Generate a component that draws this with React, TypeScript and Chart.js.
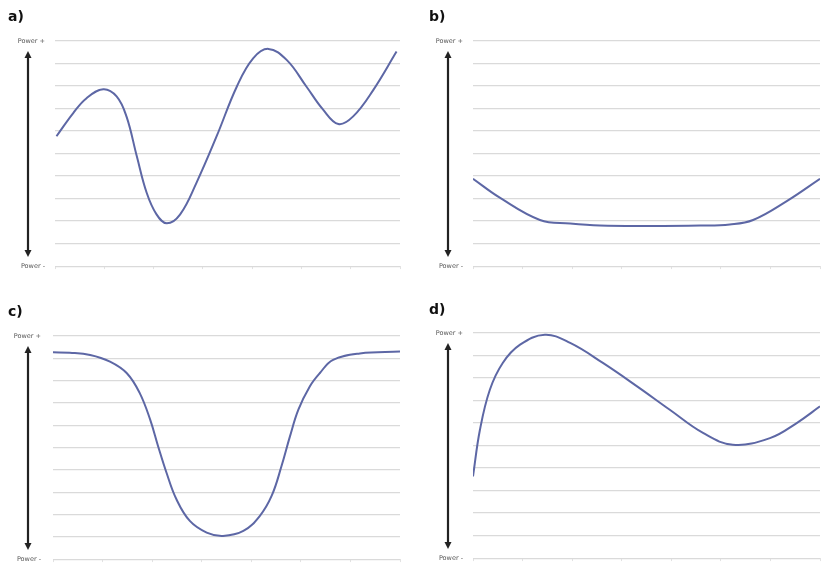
import React, { useEffect, useRef } from "react";
import { Chart, registerables } from "chart.js";

Chart.register(...registerables);

const panelLabels = ["a)", "b)", "c)", "d)"];
const yTickTop = "Power +";
const yTickBottom = "Power -";
const yMin = 0;
const yMax = 10;
const xMin = 0;
const xMax = 7;

const aX = [0.03, 0.37, 0.64, 0.98, 1.25, 1.45, 1.66, 1.86, 2.06, 2.27, 2.54, 2.87, 3.28, 3.69, 4.02, 4.33, 4.7, 5.1, 5.44, 5.75, 6.05, 6.46, 6.93];
const aY = [5.77, 6.8, 7.46, 7.86, 7.54, 6.65, 4.88, 3.26, 2.3, 1.9, 2.3, 3.7, 5.77, 7.98, 9.23, 9.65, 9.16, 7.98, 6.95, 6.31, 6.65, 7.83, 9.53];

const bX = [0, 0.54, 1.35, 1.96, 2.56, 3.57, 4.58, 5.18, 5.65, 6.33, 7.0];
const bY = [3.88, 3.04, 2.05, 1.89, 1.8, 1.78, 1.8, 1.85, 2.05, 2.89, 3.88];

const cX = [0, 0.34, 0.75, 1.15, 1.49, 1.75, 1.96, 2.12, 2.29, 2.49, 2.76, 3.1, 3.43, 3.84, 4.17, 4.41, 4.61, 4.78, 4.95, 5.18, 5.38, 5.65, 6.19, 7.0];
const cY = [9.27, 9.25, 9.15, 8.85, 8.33, 7.44, 6.25, 5.06, 3.87, 2.68, 1.71, 1.19, 1.04, 1.26, 1.93, 2.83, 4.17, 5.5, 6.7, 7.74, 8.33, 8.93, 9.22, 9.3];

const dX = [0, 0.14, 0.34, 0.6, 0.95, 1.45, 1.96, 2.62, 3.31, 3.97, 4.64, 5.24, 5.99, 6.53, 7.0];
const dY = [3.63, 5.7, 7.48, 8.67, 9.48, 9.92, 9.56, 8.67, 7.63, 6.59, 5.56, 5.04, 5.33, 6.0, 6.74];

type PanelCfg = {
  label: string;
  xs: number[];
  ys: number[];
  left: number;
  top: number;
  w: number;
  h: number;
  padTop: number;
  padRight: number;
  padBottom: number;
  yWidth: number;
  arrowX: number;
  labelPad: number;
  labelPos: [number, number];
};

const panels: PanelCfg[] = [
  { label: panelLabels[0], xs: aX, ys: aY, left: 0, top: 0, w: 415, h: 280, padTop: 41, padRight: 15, padBottom: 9, yWidth: 55, arrowX: 28, labelPad: 10, labelPos: [8, 8] },
  { label: panelLabels[1], xs: bX, ys: bY, left: 415, top: 0, w: 415, h: 280, padTop: 41, padRight: 10, padBottom: 9, yWidth: 58, arrowX: 33, labelPad: 10, labelPos: [429, 8] },
  { label: panelLabels[2], xs: cX, ys: cY, left: 0, top: 290, w: 415, h: 285, padTop: 46, padRight: 15, padBottom: 9, yWidth: 53, arrowX: 28, labelPad: 12, labelPos: [8, 303] },
  { label: panelLabels[3], xs: dX, ys: dY, left: 415, top: 290, w: 415, h: 282, padTop: 43, padRight: 10, padBottom: 9, yWidth: 58, arrowX: 33, labelPad: 10, labelPos: [429, 301] },
];

const arrowPlugin = {
  id: "powerArrow",
  afterDraw(chart: any, _args: any, opts: any) {
    const { ctx, chartArea } = chart;
    const x = opts.x;
    const y1 = chartArea.top + 10;
    const y2 = chartArea.bottom - 9;
    const head = 7;
    const hw = 3.5;
    ctx.save();
    ctx.strokeStyle = "#222";
    ctx.fillStyle = "#222";
    ctx.lineWidth = 2.2;
    ctx.beginPath();
    ctx.moveTo(x, y1 + head - 1);
    ctx.lineTo(x, y2 - head + 1);
    ctx.stroke();
    ctx.beginPath();
    ctx.moveTo(x, y1);
    ctx.lineTo(x - hw, y1 + head);
    ctx.lineTo(x + hw, y1 + head);
    ctx.closePath();
    ctx.fill();
    ctx.beginPath();
    ctx.moveTo(x, y2);
    ctx.lineTo(x - hw, y2 - head);
    ctx.lineTo(x + hw, y2 - head);
    ctx.closePath();
    ctx.fill();
    ctx.restore();
  },
};

function Panel({ cfg }: { cfg: PanelCfg }) {
  const ref = useRef<HTMLCanvasElement | null>(null);
  useEffect(() => {
    if (!ref.current) return;
    const chart = new Chart(ref.current, {
      type: "line",
      data: {
        datasets: [
          {
            data: cfg.xs.map((x, i) => ({ x, y: cfg.ys[i] })),
            borderColor: "#5d67a5",
            borderWidth: 2,
            pointRadius: 0,
            fill: false,
            tension: 0.4,
          },
        ],
      },
      options: {
        animation: false,
        responsive: false,
        layout: { padding: { top: cfg.padTop, right: cfg.padRight, bottom: cfg.padBottom, left: 0 } },
        plugins: {
          legend: { display: false },
          tooltip: { enabled: false },
          title: { display: false },
          powerArrow: { x: cfg.arrowX },
        } as any,
        scales: {
          x: {
            type: "linear",
            min: xMin,
            max: xMax,
            ticks: { display: false, stepSize: 1 },
            grid: { drawOnChartArea: false, drawTicks: true, tickLength: 3, color: "#e2e2e2" },
            border: { display: false },
            afterFit: (s: any) => {
              s.height = 4;
            },
          },
          y: {
            min: yMin,
            max: yMax,
            ticks: {
              stepSize: 1,
              padding: cfg.labelPad,
              color: "#555",
              font: { family: "DejaVu Sans", size: 6.5 },
              callback: (v: any) => (v === yMax ? yTickTop : v === yMin ? yTickBottom : ""),
            },
            grid: { drawTicks: false, color: "#dadada", lineWidth: 1.2 },
            border: { display: false },
            afterFit: (s: any) => {
              s.width = cfg.yWidth;
            },
          },
        },
      },
      plugins: [arrowPlugin],
    });
    return () => chart.destroy();
  }, [cfg]);
  return (
    <canvas
      ref={ref}
      width={cfg.w}
      height={cfg.h}
      style={{ position: "absolute", left: cfg.left, top: cfg.top, width: cfg.w, height: cfg.h }}
    />
  );
}

export default function App() {
  return (
    <div style={{ position: "absolute", left: 0, top: 0, width: 830, height: 565, background: "#fff", overflow: "hidden" }}>
      {panels.map((p, i) => (
        <Panel key={i} cfg={p} />
      ))}
      {panels.map((p, i) => (
        <div
          key={"l" + i}
          style={{
            position: "absolute",
            left: p.labelPos[0],
            top: p.labelPos[1],
            fontFamily: "DejaVu Sans",
            fontWeight: "bold",
            fontSize: 14,
            color: "#111",
            lineHeight: "16px",
          }}
        >
          {p.label}
        </div>
      ))}
    </div>
  );
}
